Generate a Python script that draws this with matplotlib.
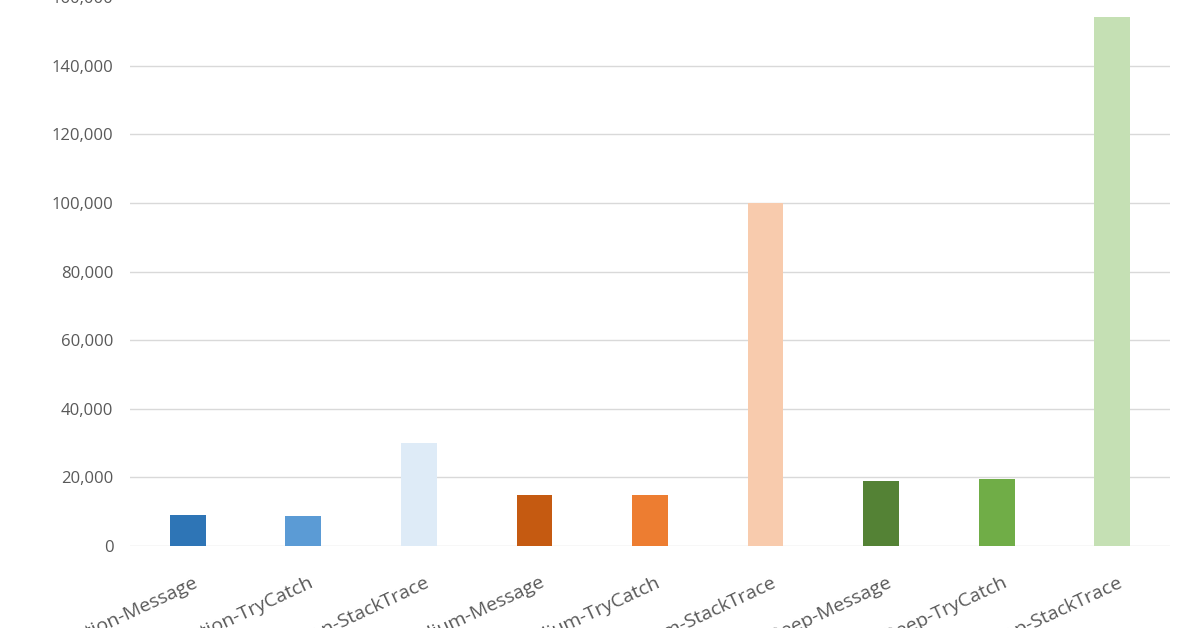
import matplotlib
matplotlib.use("Agg")
import matplotlib.pyplot as plt
import matplotlib.transforms as mtransforms

plt.rcParams["font.family"] = ["Open Sans", "DejaVu Sans"]

categories = [
    "Foundation-Message", "Foundation-TryCatch", "Foundation-StackTrace",
    "Medium-Message", "Medium-TryCatch", "Medium-StackTrace",
    "Deep-Message", "Deep-TryCatch", "Deep-StackTrace",
]
values = [9000, 8800, 30000, 14900, 14900, 99900, 18900, 19500, 154300]
colors = ["#2E75B6", "#5B9BD5", "#DEEBF7", "#C55A11", "#ED7D31", "#F8CBAD",
          "#548235", "#70AD47", "#C5E0B4"]
yticks = list(range(0, 160001, 20000))

GREY = "#595959"
GRID = "#D9D9D9"

fig = plt.figure(figsize=(11.96, 6.28), dpi=100)
fig.patch.set_facecolor("white")
ax = fig.add_axes([0.1087, 0.1306, 0.8696, 0.874])

x = range(len(categories))
ax.bar(x, values, color=colors, width=0.31, zorder=3)
ax.set_xlim(-0.5, len(categories) - 0.5)
ax.set_ylim(0, 160000)
ax.set_yticks(yticks)
ax.set_yticklabels([f"{v:,}" for v in yticks], fontsize=12, color=GREY)
ax.grid(axis="y", color=GRID, lw=1.0, zorder=0)
for s in ["top", "right", "left", "bottom"]:
    ax.spines[s].set_visible(False)
ax.tick_params(axis="y", length=0, pad=12)
ax.tick_params(axis="x", length=0)

# x labels run off the bottom edge, like the cropped original
ax.set_xticks(list(x))
ax.set_xticklabels([])
offset = mtransforms.ScaledTranslation(0.05, -0.27, fig.dpi_scale_trans)
trans = mtransforms.blended_transform_factory(ax.transData, ax.transAxes) + offset
for i, lab in enumerate(categories):
    ax.text(i, 0, lab, rotation=25, rotation_mode="anchor", ha="right", va="top",
            fontsize=14, color=GREY, transform=trans)

fig.savefig("out.png", facecolor="white")
